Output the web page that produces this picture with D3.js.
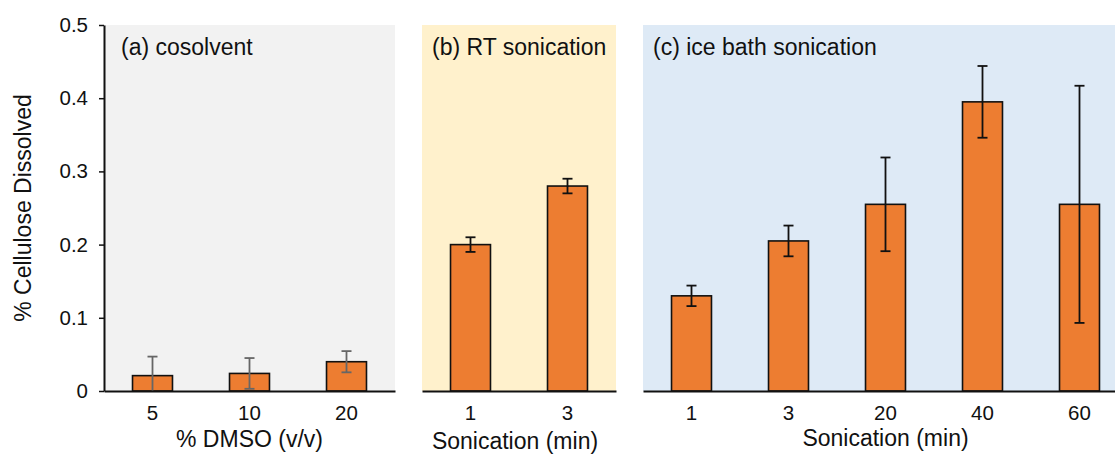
<!DOCTYPE html>
<html>
<head>
<meta charset="utf-8">
<script src="https://cdn.jsdelivr.net/npm/d3@7"></script>
<style>
  html, body { margin: 0; padding: 0; background: #ffffff; }
  svg { display: block; font-family: "Liberation Sans", Arial, Helvetica, sans-serif; }
</style>
</head>
<body>
<svg id="chart" width="1115" height="454"></svg>
<script>
// Cellulose dissolution under three pretreatments
const cosolventCats = ["5", "10", "20"];
const cosolventVals = [0.021, 0.024, 0.040];
const cosolventErr  = [0.026, 0.021, 0.0145];

const rtCats = ["1", "3"];
const rtVals = [0.200, 0.280];
const rtErr  = [0.010, 0.010];

const iceCats = ["1", "3", "20", "40", "60"];
const iceVals = [0.130, 0.205, 0.255, 0.395, 0.255];
const iceErr  = [0.014, 0.021, 0.064, 0.049, 0.162];

const yTicks = [0, 0.1, 0.2, 0.3, 0.4, 0.5];

const panels = [
  { title: "(a) cosolvent", xLabel: "% DMSO (v/v)", cats: cosolventCats, vals: cosolventVals, errs: cosolventErr,
    x0: 104, bg: "#f2f2f2", errColor: "#666666", labelY: 447 },
  { title: "(b) RT sonication", xLabel: "Sonication (min)", cats: rtCats, vals: rtVals, errs: rtErr,
    x0: 422, bg: "#fff1cc", errColor: "#111111", labelY: 449 },
  { title: "(c) ice bath sonication", xLabel: "Sonication (min)", cats: iceCats, vals: iceVals, errs: iceErr,
    x0: 643, bg: "#deeaf6", errColor: "#111111", labelY: 446 }
];

const step = 97;
const ink = "#111111";
const svg = d3.select("#chart");
const y = d3.scaleLinear().domain([0, 0.5]).range([391, 25]);

panels.forEach((p, pi) => {
  const x = d3.scaleBand()
    .domain(p.cats)
    .range([p.x0, p.x0 + p.cats.length * step])
    .paddingInner(0.588)
    .paddingOuter(0.294);
  const g = svg.append("g");

  // panel background
  g.append("rect")
    .attr("x", p.x0).attr("y", y(0.5))
    .attr("width", p.cats.length * step).attr("height", y(0) - y(0.5))
    .attr("fill", p.bg);

  const rows = p.cats.map((c, i) => ({ c, v: p.vals[i], e: p.errs[i] }));

  // bars
  g.selectAll("rect.bar").data(rows).join("rect")
    .attr("class", "bar")
    .attr("x", d => x(d.c)).attr("width", x.bandwidth())
    .attr("y", d => y(d.v)).attr("height", d => y(0) - y(d.v))
    .attr("fill", "#ed7d31").attr("stroke", ink).attr("stroke-width", 1.6);

  // error bars
  const cap = 5;
  const cx = d => x(d.c) + x.bandwidth() / 2;
  const eg = g.selectAll("g.err").data(rows).join("g")
    .attr("class", "err")
    .attr("stroke", p.errColor).attr("stroke-width", 1.8).attr("fill", "none");
  eg.append("line")
    .attr("x1", cx).attr("x2", cx)
    .attr("y1", d => y(d.v + d.e)).attr("y2", d => y(Math.max(0, d.v - d.e)));
  eg.append("line")
    .attr("x1", d => cx(d) - cap).attr("x2", d => cx(d) + cap)
    .attr("y1", d => y(d.v + d.e)).attr("y2", d => y(d.v + d.e));
  eg.filter(d => d.v - d.e > 0).append("line")
    .attr("x1", d => cx(d) - cap).attr("x2", d => cx(d) + cap)
    .attr("y1", d => y(d.v - d.e)).attr("y2", d => y(d.v - d.e));

  // category axis
  const ax = g.append("g")
    .attr("transform", `translate(0,${y(0)})`)
    .call(d3.axisBottom(x).tickSizeInner(0).tickSizeOuter(0).tickPadding(14));
  ax.select(".domain").attr("stroke", ink).attr("stroke-width", 2);
  ax.selectAll("text").attr("font-size", 20.5).attr("fill", ink).attr("font-family", null);

  // x-axis title
  g.append("text")
    .attr("x", p.x0 + p.cats.length * step / 2 - (pi === 1 ? 4 : 0)).attr("y", p.labelY)
    .attr("text-anchor", "middle").attr("font-size", 23).attr("fill", ink)
    .text(p.xLabel);

  // panel title
  g.append("text")
    .attr("x", p.x0 + (pi === 0 ? 17 : 10)).attr("y", 55)
    .attr("font-size", 23).attr("fill", ink)
    .text(p.title);
});

// value axis
const yAx = svg.append("g")
  .attr("transform", "translate(104,0)")
  .call(d3.axisLeft(y).tickValues(yTicks).tickSizeInner(5).tickSizeOuter(0).tickPadding(11)
    .tickFormat(d => d === 0 ? "0" : d.toFixed(1)));
yAx.select(".domain").attr("stroke", ink).attr("stroke-width", 2);
yAx.selectAll(".tick line").attr("stroke", ink).attr("stroke-width", 1.5);
yAx.selectAll("text").attr("font-size", 20.5).attr("fill", ink).attr("font-family", null);

svg.append("text")
  .attr("transform", "translate(31,208) rotate(-90)")
  .attr("text-anchor", "middle").attr("font-size", 23).attr("fill", ink)
  .text("% Cellulose Dissolved");
</script>
</body>
</html>
